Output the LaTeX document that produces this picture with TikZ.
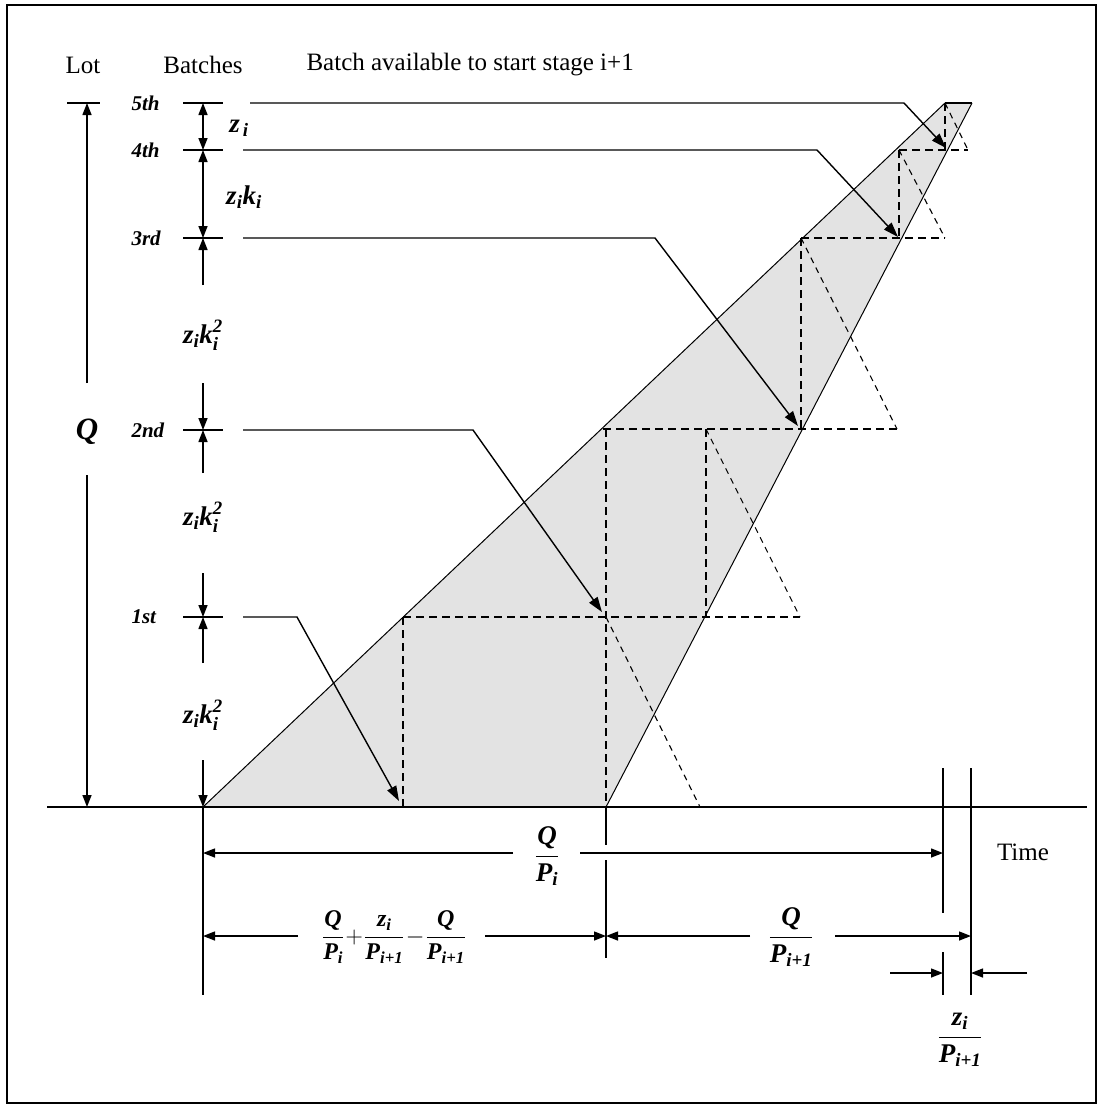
\RequirePackage{fix-cm}
\documentclass[tikz,border=0pt]{standalone}
\usepackage{amsmath}
\usepackage{fontspec}
\setmainfont{Liberation Serif}
\usetikzlibrary{arrows.meta}
\newcommand\bv[1]{\text{\bfseries\itshape #1}}
\begin{document}
\begin{tikzpicture}[x=1pt,y=-1pt,
  tipA/.tip={Triangle[length=12pt,width=9pt]},
  dim/.style={line width=1.4pt,-tipA},
  dimboth/.style={line width=1.4pt,tipA-tipA},
  leader/.style={line width=1.4pt,-{Triangle[length=15pt,width=10pt]}},
  plain/.style={line width=1.4pt},
  dsh/.style={line width=1.4pt,dash pattern=on 8pt off 5pt},
  dshd/.style={line width=1.1pt,dash pattern=on 6pt off 5pt},
  edgeline/.style={line width=1pt},
  hdr/.style={font=\fontsize{25}{29}\selectfont},
  ord/.style={font=\fontsize{21}{25}\selectfont\bfseries\itshape, anchor=west},
  mlab/.style={font=\fontsize{27}{31}\selectfont},
  flab/.style={font=\fontsize{27}{31}\selectfont},
  flabs/.style={font=\fontsize{24}{28}\selectfont},
  ]
\useasboundingbox (0,0) rectangle (1099,1109);
\draw[line width=2pt] (7,5) rectangle (1096,1103);

% key points
\coordinate (B0) at (203,807);
\coordinate (L5) at (945,103);
\coordinate (T5) at (972,103);
\coordinate (R0) at (606,807);

% shaded region
\fill[black!11] (B0) -- (L5) -- (T5) -- (R0) -- cycle;

% dashed construction
\draw[dsh] (403,617) -- (403,807);
\draw[dsh] (403,617) -- (800,617);
\draw[dsh] (606,429) -- (606,807);
\draw[dshd] (606,617) -- (700,807);
\draw[dsh] (603,429) -- (897,429);
\draw[dsh] (706,429) -- (706,617);
\draw[dshd] (706,429) -- (800,617);
\draw[dsh] (801,238) -- (801,429);
\draw[dshd] (801,238) -- (897,429);
\draw[dsh] (801,238) -- (945,238);
\draw[dsh] (899,150) -- (899,238);
\draw[dshd] (899,150) -- (945,238);
\draw[dsh] (899,150) -- (968,150);
\draw[dsh] (945,103) -- (945,150);
\draw[dshd] (945,103) -- (968,150);

% region edges
\draw[edgeline] (B0) -- (L5);
\draw[edgeline] (R0) -- (T5);
\draw[plain] (L5) -- (T5);

% baseline
\draw[plain] (47,807) -- (1087,807);

% headers
\node[hdr] (lot) at (83,65) {Lot};
\node[hdr] (bat) at (203,65) {Batches};
\node[hdr,anchor=west] (avail) at (303,65) {Batch available to start stage i+1};
\node[hdr] (time) at (1023,852) {Time};

% Lot dimension
\draw[plain] (67,103) -- (100,103);
\draw[dim] (87,383) -- (87,103);
\draw[dim] (87,475) -- (87,807);
\node[font=\fontsize{31}{35}\selectfont] (Q) at (87,432) {$\bv{Q}$};

% batch ticks
\foreach \y in {103,150,238,430,617} \draw[plain] (183,\y) -- (223,\y);
\node[ord] (o5) at (128,103) {5th};
\node[ord] (o4) at (128,150) {4th};
\node[ord] (o3) at (128,238) {3rd};
\node[ord] (o2) at (128,430) {2nd};
\node[ord] (o1) at (128,617) {1st};

% batch dimensions
\draw[dimboth] (203,103) -- (203,150);
\draw[dimboth] (203,150) -- (203,238);
\draw[dim] (203,285) -- (203,238);
\draw[dim] (203,383) -- (203,430);
\draw[dim] (203,473) -- (203,430);
\draw[dim] (203,573) -- (203,617);
\draw[dim] (203,663) -- (203,617);
\draw[dim] (203,760) -- (203,807);
\node[mlab] (d1) at (239,128) {$\bv{z}_{\,\bv{i}}$};
\node[mlab] (d2) at (244,197) {$\bv{z}_{\bv{i}}\bv{k}_{\bv{i}}$};
\node[mlab] (d3) at (203,335) {$\bv{z}_{\bv{i}}\bv{k}_{\bv{i}}^{\bv{2}}$};
\node[mlab] (d4) at (203,517) {$\bv{z}_{\bv{i}}\bv{k}_{\bv{i}}^{\bv{2}}$};
\node[mlab] (d5) at (203,715) {$\bv{z}_{\bv{i}}\bv{k}_{\bv{i}}^{\bv{2}}$};

% leaders
\draw[leader] (250,103) -- (904,103) -- (946,148);
\draw[leader] (243,150) -- (817,150) -- (898,237);
\draw[leader] (243,238) -- (655,238) -- (798,426);
\draw[leader] (243,430) -- (473,430) -- (602,612);
\draw[leader] (243,617) -- (297,617) -- (399,801);

% time dimension lines
\draw[plain] (203,807) -- (203,995);
\draw[plain] (606,807) -- (606,845);
\draw[plain] (606,860) -- (606,958);
\draw[plain] (943,768) -- (943,913);
\draw[plain] (943,952) -- (943,995);
\draw[plain] (971,768) -- (971,995);

\draw[dim] (513,853) -- (203,853);
\draw[dim] (580,853) -- (943,853);
\node[flab] (f1) at (547,856) {$\dfrac{\bv{Q}}{\bv{P}_{\bv{i}}}$};

\draw[dim] (298,936) -- (203,936);
\draw[dim] (485,936) -- (606,936);
\node[flabs] (f2) at (394,937) {$\dfrac{\bv{Q}}{\bv{P}_{\bv{i}}}\!+\!\dfrac{\bv{z}_{\bv{i}}}{\bv{P}_{\bv{i+1}}}\!-\!\dfrac{\bv{Q}}{\bv{P}_{\bv{i+1}}}$};

\draw[dim] (750,936) -- (606,936);
\draw[dim] (835,936) -- (971,936);
\node[flab] (f3) at (791,937) {$\dfrac{\bv{Q}}{\bv{P}_{\bv{i+1}}}$};

\draw[dim] (890,973) -- (943,973);
\draw[dim] (1027,973) -- (971,973);
\node[flab] (f4) at (960,1040) {$\dfrac{\bv{z}_{\bv{i}}}{\bv{P}_{\bv{i+1}}}$};
\end{tikzpicture}
\end{document}
